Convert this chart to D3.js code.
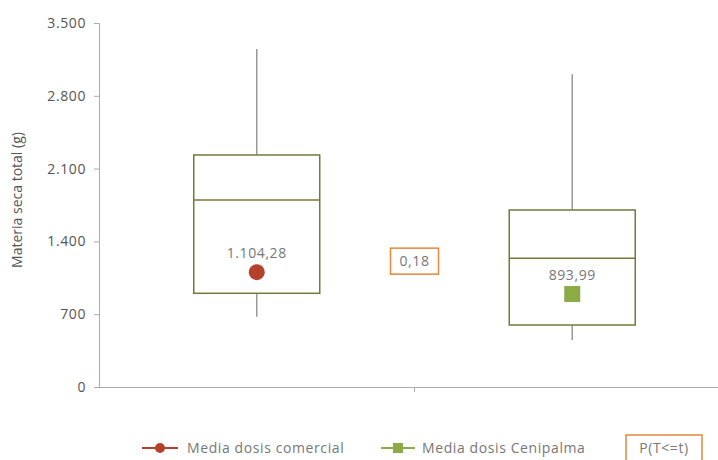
<!DOCTYPE html>
<html lang="es">
<head>
<meta charset="UTF-8">
<title>Materia seca total</title>
<script src="https://d3js.org/d3.v7.min.js"></script>
<style>
  body { margin: 0; background: #fff; font-family: "Open Sans", "Noto Sans", sans-serif; }
  .axis path, .axis line { stroke: #aaa; }
  .axis text { fill: #555; font-size: 14px; letter-spacing: 0.6px; font-family: "Open Sans", sans-serif; }
  .lbl { fill: #777; font-size: 14px; letter-spacing: 0.6px; }
</style>
</head>
<body>
<div id="chart"></div>
<script>
// data
const groups = ["Dosis comercial", "Dosis Cenipalma"];
const whiskerLow = [676, 452];
const q1 = [901, 596];
const median = [1798, 1237];
const q3 = [2231, 1702];
const whiskerHigh = [3250, 3007];
const means = [1104.28, 893.99];
const meanLabels = ["1.104,28", "893,99"];
const pValue = 0.18;
const pLabel = "0,18";
const yTicks = [0, 700, 1400, 2100, 2800, 3500];
const legendLabels = ["Media dosis comercial", "Media dosis Cenipalma", "P(T<=t)"];

const W = 718, H = 460;
const margin = {top: 23, right: -12, bottom: 73, left: 99};
const width = W - margin.left - margin.right;
const height = H - margin.top - margin.bottom;

const svg = d3.select("#chart").append("svg")
  .attr("width", W).attr("height", H);
const g = svg.append("g").attr("transform", `translate(${margin.left},${margin.top})`);

const x = d3.scaleBand().domain(groups).range([0, width]);
const y = d3.scaleLinear().domain([0, 3500]).range([height, 0]);

const fmt = d => d3.format(",")(d).replace(/,/g, ".");

g.append("g").attr("class", "axis")
  .call(d3.axisLeft(y).tickValues(yTicks).tickSize(5).tickPadding(8).tickFormat(fmt))
  .call(a => a.select(".domain").attr("d", `M-5,0.5H0.5V${height}`));

g.append("g").attr("class", "axis")
  .attr("transform", `translate(0,${height})`)
  .call(d3.axisBottom(x).tickValues([groups[1]]).tickSize(5).tickFormat(""))
  .call(a => a.selectAll(".tick").attr("transform", `translate(${x(groups[1])},0)`))
  .call(a => a.select(".domain").attr("d", `M0,0.5H${width}`));

svg.append("text")
  .attr("transform", `translate(22,${margin.top + height / 2 - 5}) rotate(-90)`)
  .attr("text-anchor", "middle")
  .attr("fill", "#555").attr("font-size", 14)
  .text("Materia seca total (g)");

const boxW = 126;
const boxes = g.selectAll(".box").data(groups).enter().append("g")
  .attr("transform", d => `translate(${x(d) + x.bandwidth() / 2},0)`);

boxes.append("line")
  .attr("y1", (d, i) => y(whiskerHigh[i])).attr("y2", (d, i) => y(q3[i]))
  .attr("stroke", "#999").attr("stroke-width", 1.5);
boxes.append("line")
  .attr("y1", (d, i) => y(q1[i])).attr("y2", (d, i) => y(whiskerLow[i]))
  .attr("stroke", "#999").attr("stroke-width", 1.5);
boxes.append("rect")
  .attr("x", -boxW / 2).attr("width", boxW)
  .attr("y", (d, i) => y(q3[i])).attr("height", (d, i) => y(q1[i]) - y(q3[i]))
  .attr("fill", "#fff").attr("stroke", "#76783a").attr("stroke-width", 1.5);
boxes.append("line")
  .attr("x1", -boxW / 2).attr("x2", boxW / 2)
  .attr("y1", (d, i) => y(median[i])).attr("y2", (d, i) => y(median[i]))
  .attr("stroke", "#76783a").attr("stroke-width", 1.5);

boxes.filter((d, i) => i === 0).append("circle")
  .attr("cy", y(means[0])).attr("r", 8).attr("fill", "#b5412a");
boxes.filter((d, i) => i === 1).append("rect")
  .attr("x", -8).attr("width", 16)
  .attr("y", y(means[1]) - 8).attr("height", 16).attr("fill", "#8aab45");

boxes.append("text").attr("class", "lbl")
  .attr("y", (d, i) => y(means[i]) - 14)
  .attr("text-anchor", "middle")
  .text((d, i) => meanLabels[i]);

// p value box between the groups
const px = x(groups[1]), py = y(1210);
g.append("rect")
  .attr("x", px - 24).attr("y", py - 13).attr("width", 48).attr("height", 26)
  .attr("fill", "#fff").attr("stroke", "#e4883c").attr("stroke-width", 1.5);
g.append("text").attr("class", "lbl")
  .attr("x", px).attr("y", py + 5).attr("text-anchor", "middle")
  .text(pLabel);

// legend
const lg = svg.append("g").attr("transform", "translate(0,448)");
lg.append("line").attr("x1", 142).attr("x2", 178).attr("stroke", "#b5412a").attr("stroke-width", 2);
lg.append("circle").attr("cx", 160).attr("r", 5).attr("fill", "#b5412a");
lg.append("text").attr("class", "lbl").attr("x", 187).attr("y", 5).text(legendLabels[0]);
lg.append("line").attr("x1", 381).attr("x2", 415).attr("stroke", "#8aab45").attr("stroke-width", 2);
lg.append("rect").attr("x", 393).attr("y", -5).attr("width", 10).attr("height", 10).attr("fill", "#8aab45");
lg.append("text").attr("class", "lbl").attr("x", 422).attr("y", 5).text(legendLabels[1]);
lg.append("rect").attr("x", 626).attr("y", -13).attr("width", 76).attr("height", 30)
  .attr("fill", "#fff").attr("stroke", "#e4883c").attr("stroke-width", 1.5);
lg.append("text").attr("class", "lbl").attr("x", 664).attr("y", 5).attr("text-anchor", "middle")
  .text(legendLabels[2]);
</script>
</body>
</html>
